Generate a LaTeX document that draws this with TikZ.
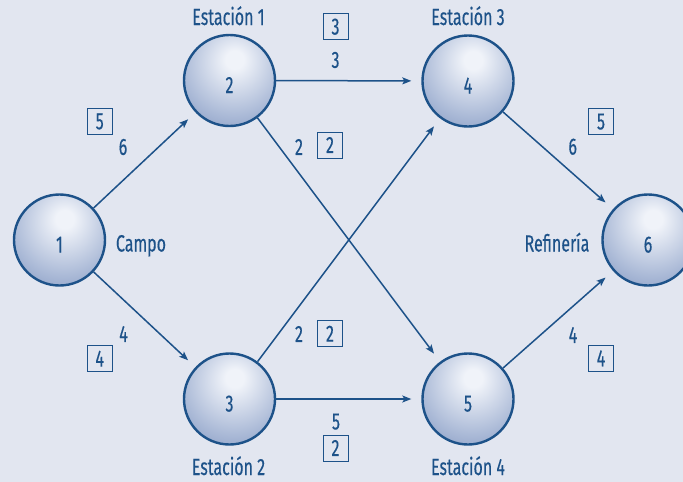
\documentclass[tikz,border=0pt]{standalone}
\usepackage{fontspec}
\setmainfont{Fira Sans}[FakeStretch=0.68,FakeBold=0.3]
\usetikzlibrary{arrows.meta,positioning}
\definecolor{bgblue}{HTML}{E2E6F0}
\definecolor{inkblue}{HTML}{1D5289}
\definecolor{ballhi}{HTML}{F0F3F9}
\definecolor{ballmid}{HTML}{ABBAD7}
\definecolor{balllow}{HTML}{7289B8}
\definecolor{balldark}{HTML}{50709F}
\pgfdeclareradialshading{nodeball}{\pgfpoint{3bp}{12bp}}{color(0bp)=(ballhi); color(5bp)=(ballhi); color(28bp)=(ballmid); color(48bp)=(balllow); color(62bp)=(balldark); color(100bp)=(balldark)}
\tikzset{
	station/.style={circle, draw=inkblue, line width=2.4pt, minimum size=91pt, inner sep=0pt, shading=nodeball, text=inkblue, font=\fontsize{23.5}{23.5}\selectfont, text height=25pt, text depth=0pt},
	tag/.style={text=inkblue, inner sep=0pt, font=\fontsize{23.5}{23.5}\selectfont},
	capbox/.style={draw=inkblue, line width=1pt, minimum width=25pt, minimum height=26pt, inner sep=0pt, text=inkblue, font=\fontsize{23.5}{23.5}\selectfont},
	flow/.style={draw=inkblue, line width=1.5pt, -{Stealth[length=9pt,width=7pt,inset=2pt]}, shorten >=10pt},
}

\begin{document}
\begin{tikzpicture}[x=1pt, y=-1pt]
			%%%%% FONDO %%%%%
			\fill[bgblue] (0, 0) rectangle (683, 482);
			\useasboundingbox (0, 0) rectangle (683, 482);
			
			%%%%% NODOS %%%%%
			\node[station] (campo) at (59.5, 240) {1};
			\node[station] (est1) at (229.5, 80.5) {2};
			\node[station] (est2) at (229.5, 399) {3};
			\node[station] (est3) at (468, 81) {4};
			\node[station] (est4) at (468, 399) {5};
			\node[station] (refi) at (648, 240) {6};
			
			\node[tag, anchor=base] (lcampo) at (141, 251.5) {Campo};
			\node[tag, anchor=base] (lrefi) at (557, 251.5) {Refinería};
			\node[tag, anchor=base] (lest1) at (228.5, 25) {Estación 1};
			\node[tag, anchor=base] (lest3) at (468, 25) {Estación 3};
			\node[tag, anchor=base] (lest2) at (228.5, 475) {Estación 2};
			\node[tag, anchor=base] (lest4) at (468, 475) {Estación 4};
			
			%%%%% ARCOS %%%%%
			\draw[flow] (campo) -- (est1);
			\draw[flow] (campo) -- (est2);
			\draw[flow] (est1) -- (est3);
			\draw[flow] (est1) -- (est4);
			\draw[flow] (est2) -- (est3);
			\draw[flow] (est2) -- (est4);
			\draw[flow] (est3) -- (refi);
			\draw[flow] (est4) -- (refi);
			
			%%%%% ETIQUETAS %%%%%
			\node[capbox] (c12) at (99.7, 121.5) {5};
			\node[tag] (f12) at (123, 147) {6};
			
			\node[capbox] (c13) at (99.7, 358.7) {4};
			\node[tag] (f13) at (123.5, 334) {4};
			
			\node[capbox] (c24) at (335.5, 26.7) {3};
			\node[tag] (f24) at (335.5, 60) {3};
			
			\node[tag] (f25) at (299, 147) {2};
			\node[capbox] (c25) at (330, 145) {2};
			
			\node[tag] (f34) at (299, 334) {2};
			\node[capbox] (c34) at (330, 333.7) {2};
			
			\node[tag] (f35) at (336, 421.7) {5};
			\node[capbox] (c35) at (335.5, 448) {2};
			
			\node[tag] (f46) at (572.7, 146.7) {6};
			\node[capbox] (c46) at (601, 121.7) {5};
			
			\node[tag] (f56) at (573, 335) {4};
			\node[capbox] (c56) at (601, 358.3) {4};
			
			%%%%% FIN %%%%%
\end{tikzpicture}
\end{document}
